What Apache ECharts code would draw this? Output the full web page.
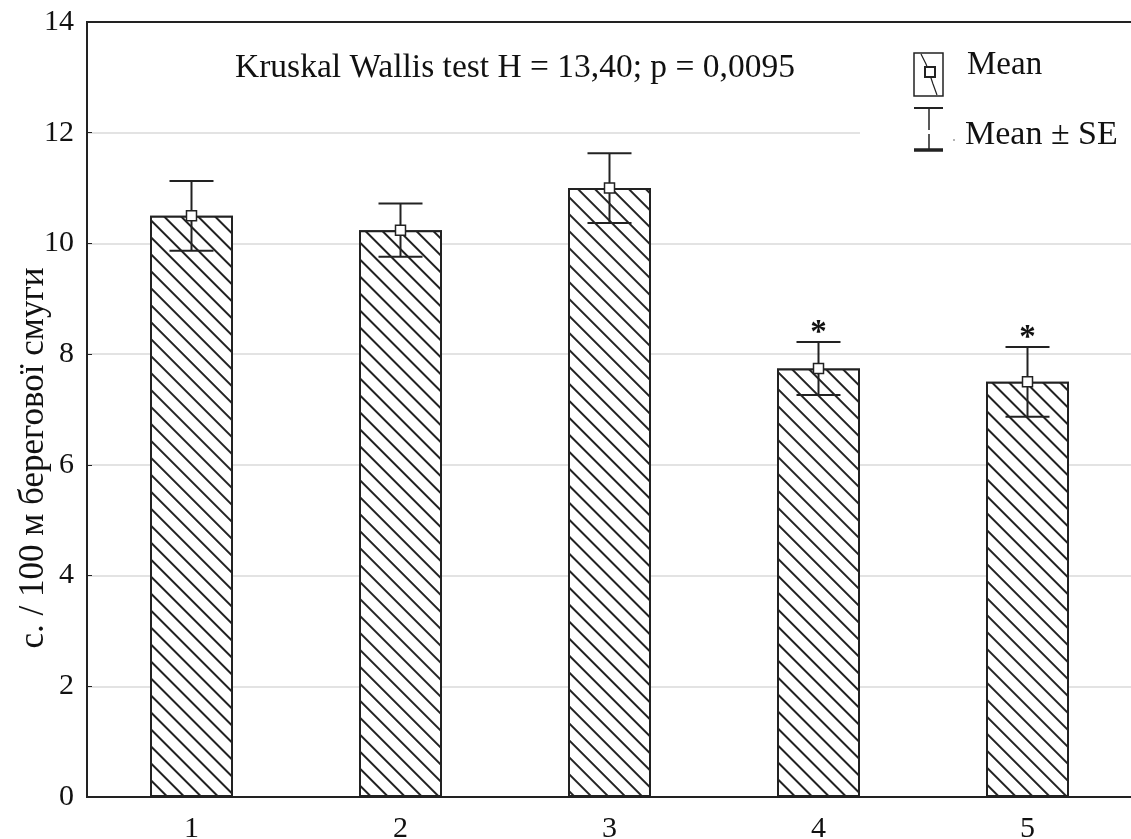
<!DOCTYPE html>
<html>
<head>
<meta charset="utf-8">
<script src="https://cdn.jsdelivr.net/npm/echarts@6/dist/echarts.min.js"></script>
<style>
  html, body { margin: 0; padding: 0; background: #fff; }
  #chart { width: 1131px; height: 839px; }
</style>
</head>
<body>
<div id="chart"></div>
<script>
// groups on the x axis
const categories = ['1', '2', '3', '4', '5'];
// mean per group (bar height) and standard error
const means = [10.5, 10.24, 11.0, 7.74, 7.5];
const se = [0.63, 0.48, 0.63, 0.48, 0.63];
// significance marks drawn above the whiskers
const marks = ['', '', '', '*', '*'];
const yTicks = [0, 2, 4, 6, 8, 10, 12, 14];

const FONT = '"Liberation Serif", "Times New Roman", serif';
const INK = '#111';

const chart = echarts.init(document.getElementById('chart'));

const option = {
  animation: false,
  backgroundColor: '#fff',
  grid: {
    left: 87,
    top: 22,
    width: 1045,
    height: 775,
    containLabel: false,
    outerBoundsMode: 'none',
    show: true,
    borderColor: '#222',
    borderWidth: 2,
  },
  xAxis: [
    {
      type: 'category',
      data: categories,
      axisLine: { lineStyle: { color: '#222', width: 2 } },
      axisTick: { inside: true, alignWithLabel: true, length: 5, lineStyle: { color: '#222' } },
      axisLabel: { fontFamily: FONT, fontSize: 30, color: INK, margin: 17 },
    },
    {
      type: 'category',
      position: 'top',
      data: categories,
      axisLine: { lineStyle: { color: '#222', width: 2 } },
      axisTick: { inside: true, alignWithLabel: true, length: 5, lineStyle: { color: '#222' } },
      axisLabel: { show: false },
    },
  ],
  yAxis: {
    type: 'value',
    min: yTicks[0],
    max: yTicks[yTicks.length - 1],
    interval: 2,
    axisLine: { show: true, lineStyle: { color: '#222', width: 2 } },
    axisTick: { show: true, inside: true, length: 5, lineStyle: { color: '#222' } },
    axisLabel: { fontFamily: FONT, fontSize: 30, color: INK, margin: 13 },
    splitLine: { show: true, lineStyle: { color: '#dadada', width: 1.5 } },
  },
  series: [
    {
      type: 'bar',
      data: means,
      barWidth: 83,
      itemStyle: {
        color: '#fff',
        borderColor: '#222',
        borderWidth: 2,
        decal: {
          symbol: 'rect',
          symbolSize: 1,
          color: '#222',
          backgroundColor: '#fff',
          dashArrayX: [1, 0],
          dashArrayY: [1.4, 9.2],
          rotation: Math.PI / 4,
        },
      },
      z: 2,
    },
    {
      type: 'custom',
      data: categories.map((c, i) => [i, means[i], se[i], marks[i]]),
      z: 5,
      renderItem: (params, api) => {
        const i = api.value(0);
        const m = api.value(1);
        const e = api.value(2);
        const top = api.coord([i, m + e]);
        const bot = api.coord([i, m - e]);
        const mid = api.coord([i, m]);
        const half = 22;
        const line = { stroke: '#222', lineWidth: 2 };
        const children = [
          { type: 'line', shape: { x1: top[0], y1: top[1], x2: bot[0], y2: bot[1] }, style: line },
          { type: 'line', shape: { x1: top[0] - half, y1: top[1], x2: top[0] + half, y2: top[1] }, style: line },
          { type: 'line', shape: { x1: bot[0] - half, y1: bot[1], x2: bot[0] + half, y2: bot[1] }, style: line },
          {
            type: 'rect',
            shape: { x: mid[0] - 5, y: mid[1] - 5, width: 10, height: 10 },
            style: { fill: '#fff', stroke: '#222', lineWidth: 1.5 },
          },
        ];
        const mark = marks[params.dataIndex];
        if (mark) {
          children.push({
            type: 'text',
            x: top[0],
            y: top[1] - 8,
            style: { text: mark, font: 'bold 33px ' + FONT, fill: INK, align: 'center', verticalAlign: 'middle' },
          });
        }
        return { type: 'group', children };
      },
    },
  ],
  graphic: [
    // the 12 gridline stops short of the legend
    { type: 'rect', left: 860, top: 130, shape: { width: 280, height: 4 }, style: { fill: '#fff' }, z: 1 },
    {
      type: 'text',
      left: 235,
      top: 51,
      style: { text: 'Kruskal Wallis test H = 13,40; p = 0,0095', font: '33.5px ' + FONT, fill: INK },
      z: 10,
    },
    {
      type: 'text',
      x: 34,
      y: 458,
      rotation: Math.PI / 2,
      style: {
        text: 'с. / 100 м берегової смуги',
        font: '35px ' + FONT,
        fill: INK,
        align: 'center',
        verticalAlign: 'middle',
      },
      z: 10,
    },
    // legend: mean symbol and whisker symbol
    {
      type: 'group',
      z: 10,
      children: [
        { type: 'rect', shape: { x: 914, y: 53, width: 29, height: 43 }, style: { fill: '#fff', stroke: '#222', lineWidth: 1.5 } },
        { type: 'polyline', shape: { points: [[921, 54], [926, 64], [929, 72], [933, 84], [937, 95]] }, style: { stroke: '#222', lineWidth: 1.2, fill: null } },
        { type: 'rect', shape: { x: 925, y: 67, width: 10, height: 10 }, style: { fill: '#fff', stroke: '#222', lineWidth: 2 } },
        { type: 'line', shape: { x1: 929, y1: 108, x2: 929, y2: 150 }, style: { stroke: '#222', lineWidth: 1.5 } },
        { type: 'line', shape: { x1: 914, y1: 108, x2: 943, y2: 108 }, style: { stroke: '#222', lineWidth: 2 } },
        { type: 'line', shape: { x1: 914, y1: 150, x2: 943, y2: 150 }, style: { stroke: '#222', lineWidth: 3.5 } },
        { type: 'circle', shape: { cx: 954, cy: 140, r: 0.8 }, style: { fill: '#555' } },
      ],
    },
    { type: 'text', left: 967, top: 49, style: { text: 'Mean', font: '33px ' + FONT, fill: INK }, z: 10 },
    { type: 'text', left: 965, top: 118, style: { text: 'Mean ± SE', font: '34px ' + FONT, fill: INK }, z: 10 },
  ],
};

chart.setOption(option);
</script>
</body>
</html>
